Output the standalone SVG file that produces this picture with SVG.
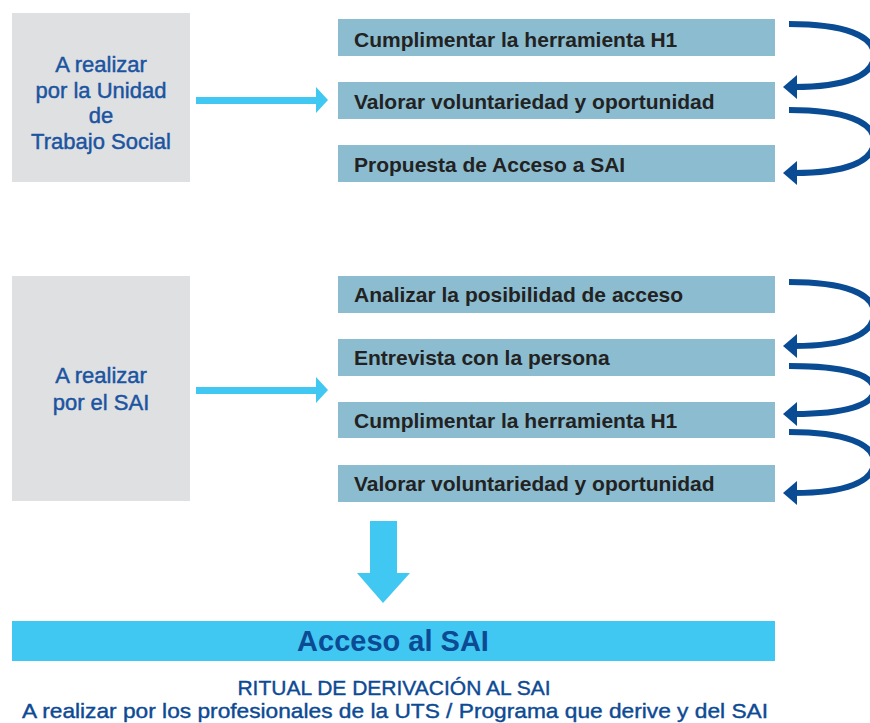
<svg xmlns="http://www.w3.org/2000/svg" width="870" height="723" viewBox="0 0 870 723">
<defs>
<style>
.side{fill:#dfe0e2}
.sidet{font-family:"Liberation Sans",Arial,sans-serif;font-size:22px;fill:#1b54a0;stroke:#1b54a0;stroke-width:0.45px;text-anchor:middle}
.bar{fill:#8cbccf}
.bart{font-family:"Liberation Sans",Arial,sans-serif;font-size:21px;font-weight:bold;fill:#222}
.loop{fill:none;stroke:#0a4c94;stroke-width:6}
.head{fill:#0a4c94}
.lb{fill:#40c8f2}
.foot{font-family:"Liberation Sans",Arial,sans-serif;font-size:21px;fill:#0d4a94;stroke:#0d4a94;stroke-width:0.4px;text-anchor:middle}
</style>
</defs>
<rect width="870" height="723" fill="#fff"/>
<g id="uts">
<rect class="side" x="12" y="13" width="178" height="169"/>
<text class="sidet" x="101" y="72">A realizar</text>
<text class="sidet" x="101" y="98">por la Unidad</text>
<text class="sidet" x="101" y="123">de</text>
<text class="sidet" x="101" y="149">Trabajo Social</text>
</g>
<g id="sai">
<rect class="side" x="12" y="276" width="178" height="225"/>
<text class="sidet" x="101" y="383">A realizar</text>
<text class="sidet" x="101" y="410">por el SAI</text>
</g>
<g id="s1"><rect class="bar" x="338" y="19" width="437" height="37"/><text class="bart" x="354" y="47">Cumplimentar la herramienta H1</text></g>
<g id="s2"><rect class="bar" x="338" y="82" width="437" height="37"/><text class="bart" x="354" y="109">Valorar voluntariedad y oportunidad</text></g>
<g id="s3"><rect class="bar" x="338" y="145" width="437" height="37"/><text class="bart" x="354" y="172">Propuesta de Acceso a SAI</text></g>
<g id="s4"><rect class="bar" x="338" y="276" width="437" height="37"/><text class="bart" x="354" y="302">Analizar la posibilidad de acceso</text></g>
<g id="s5"><rect class="bar" x="338" y="339" width="437" height="37"/><text class="bart" x="354" y="365">Entrevista con la persona</text></g>
<g id="s6"><rect class="bar" x="338" y="402" width="437" height="36"/><text class="bart" x="354" y="428">Cumplimentar la herramienta H1</text></g>
<g id="s7"><rect class="bar" x="338" y="465" width="437" height="37"/><text class="bart" x="354" y="491">Valorar voluntariedad y oportunidad</text></g>
<g id="access">
<rect class="lb" x="12" y="621" width="763" height="40"/>
<text x="393" y="651" font-family="'Liberation Sans',Arial,sans-serif" font-size="29" font-weight="bold" fill="#0d4a94" text-anchor="middle">Acceso al SAI</text>
</g>
<g id="caption">
<text class="foot" x="394" y="695">RITUAL DE DERIVACIÓN AL SAI</text>
<text class="foot" x="395" y="718" textLength="746" lengthAdjust="spacingAndGlyphs">A realizar por los profesionales de la UTS / Programa que derive y del SAI</text>
</g>
<g id="connectors">
<path class="lb" d="M196,97 H316 V87 L328,100 L316,113 V104 H196 Z"/>
<path class="lb" d="M196,387 H316 V377 L328,390 L316,403 V394 H196 Z"/>
<path class="lb" d="M370,521 H397 V573 H410 L383,603 L357,573 H370 Z"/>
<path class="loop" d="M789,24 C845,24 874,36 874,55 C874,76 845,87 794,87"/>
<polygon class="head" points="783,87 797,75 797,99"/>
<path class="loop" d="M789,110 C845,110 874,122 874,141 C874,162 845,173 794,173"/>
<polygon class="head" points="783,173 797,161 797,185"/>
<path class="loop" d="M789,282 C845,282 874,294 874,313 C874,335 845,346 794,346"/>
<polygon class="head" points="783,346 797,334 797,358"/>
<path class="loop" d="M789,366 C845,366 874,375 874,390 C874,405 845,414 794,414"/>
<polygon class="head" points="783,414 797,402 797,426"/>
<path class="loop" d="M789,432 C845,432 874,444 874,462 C874,482 845,493 794,493"/>
<polygon class="head" points="783,493 797,481 797,505"/>
</g>
</svg>
